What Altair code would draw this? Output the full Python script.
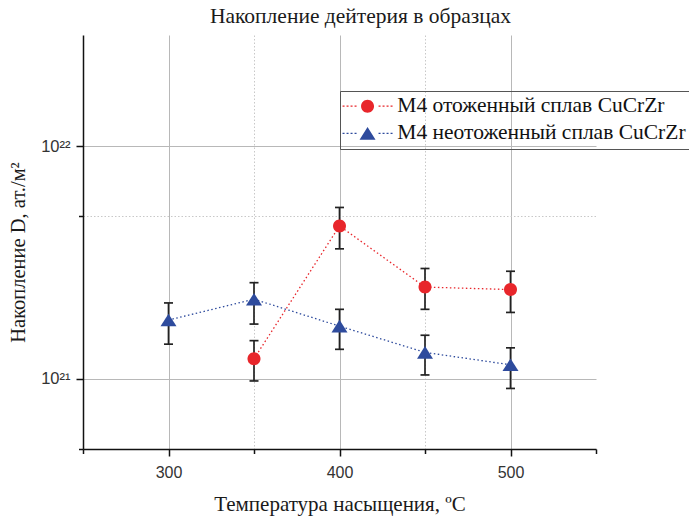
import altair as alt
import pandas as pd

# ---------------- data ----------------
series = ["М4 отоженный сплав CuCrZr", "М4 неотоженный сплав CuCrZr"]
colors = ["#e8262b", "#2e4b9d"]

temps_annealed = [350, 400, 450, 500]
d_annealed = [1.22e21, 4.54e21, 2.48e21, 2.42e21]
d_annealed_lo = [0.98e21, 3.62e21, 1.99e21, 1.93e21]
d_annealed_hi = [1.46e21, 5.45e21, 2.98e21, 2.90e21]

temps_raw = [300, 350, 400, 450, 500]
d_raw = [1.79e21, 2.20e21, 1.685e21, 1.30e21, 1.15e21]
d_raw_lo = [1.41e21, 1.72e21, 1.34e21, 1.04e21, 0.91e21]
d_raw_hi = [2.12e21, 2.59e21, 1.99e21, 1.54e21, 1.36e21]

x_ticks = [250, 300, 350, 400, 450, 500, 550]
y_ticks = [5e20, 1e21, 5e21, 1e22]

rows = []
for t, d, lo, hi in zip(temps_annealed, d_annealed, d_annealed_lo, d_annealed_hi):
    rows.append({"series": series[0], "T": t, "D": d, "lo": lo, "hi": hi})
for t, d, lo, hi in zip(temps_raw, d_raw, d_raw_lo, d_raw_hi):
    rows.append({"series": series[1], "T": t, "D": d, "lo": lo, "hi": hi})
df = pd.DataFrame(rows)

# ---------------- marker / legend symbol shapes ----------------
circle_path = "M-6.5,0A6.5,6.5,0,1,0,6.5,0A6.5,6.5,0,1,0,-6.5,0Z"
tri_path = "M0,-6.3L8,6.3L-8,6.3Z"


def dotted(half=25, gap=8, step=4):
    parts = []
    x = -half
    while x < half:
        if abs(x + 1) > gap:
            parts.append(f"M{x},-0.6h2v1.2h-2Z")
        x += step
    return "".join(parts)


legend_paths = [dotted() + circle_path, dotted() + tri_path]

xs = alt.Scale(domain=[250, 550], nice=False, zero=False)
ys = alt.Scale(type="log", domain=[5e20, 3e22], nice=False)

is_dec = "(abs(datum.value/1e21-1)<1e-6 || abs(datum.value/1e22-1)<1e-6)"
is_major_x = "(datum.value % 100 == 0 && datum.value > 250 && datum.value < 550)"

x_axis = alt.Axis(
    values=x_ticks,
    title="Температура насыщения, ºC",
    labelExpr="datum.value % 100 == 0 && datum.value > 250 && datum.value < 550 ? datum.label : ''",
    grid=True,
    gridDash={"condition": {"test": is_major_x, "value": []}, "value": [1.5, 2]},
    gridColor={"condition": {"test": is_major_x, "value": "#b8b8b8"}, "value": "#c8c8c8"},
    gridOpacity={"condition": {"test": "datum.value == 250 || datum.value == 550", "value": 0}, "value": 1},
    tickSize={"condition": {"test": is_major_x, "value": 7}, "value": 4.5},
    labelPadding=8,
    titlePadding=13,
    titleFontSize=21,
)

y_axis = alt.Axis(
    values=y_ticks,
    title="Накопление D, ат./м²",
    labelExpr="abs(datum.value/1e21-1)<1e-6 ? '10²¹' : abs(datum.value/1e22-1)<1e-6 ? '10²²' : ''",
    grid=True,
    gridDash={"condition": {"test": is_dec, "value": []}, "value": [1.5, 2]},
    gridColor={"condition": {"test": is_dec, "value": "#b8b8b8"}, "value": "#c8c8c8"},
    tickSize={"condition": {"test": is_dec, "value": 7}, "value": 4.5},
    labelPadding=6,
    labelFontSize=16.5,
    titlePadding=12,
    titleFontSize=20.5,
    titleY=217,
)

base = alt.Chart(df)
color_enc = alt.Color("series:N", scale=alt.Scale(domain=series, range=colors), legend=None)

lines = base.mark_line(strokeDash=[1.5, 2.5], strokeWidth=1.3).encode(
    x=alt.X("T:Q", scale=xs, axis=x_axis),
    y=alt.Y("D:Q", scale=ys, axis=y_axis),
    color=color_enc,
    detail="series:N",
)

bars = base.mark_rule(color="#222222", strokeWidth=1.7).encode(
    x="T:Q", y="lo:Q", y2="hi:Q"
)

caps = base.transform_fold(["lo", "hi"], as_=["which", "val"]).mark_tick(
    orient="horizontal", size=9, thickness=1.7, color="#222222", opacity=1
).encode(x="T:Q", y="val:Q")

points = base.mark_point(filled=True, size=4, opacity=1).encode(
    x="T:Q",
    y="D:Q",
    fill=alt.Fill("series:N", scale=alt.Scale(domain=series, range=colors), legend=None),
    shape=alt.Shape("series:N", scale=alt.Scale(domain=series, range=[circle_path, tri_path]), legend=None),
)

legend_props = dict(
    title=None,
    orient="none",
    legendX=257,
    legendY=56,
    symbolSize=4,
    symbolStrokeWidth=0,
    symbolOpacity=1,
    symbolOffset=12.4,
    labelOffset=19,
    labelFont="Liberation Serif",
    labelFontSize=21.5,
    labelColor="#111111",
    labelLimit=600,
    padding=4.4,
    rowPadding=4.2,
    strokeColor="#555555",
)

legend_layer = base.mark_point(filled=True, size=4, opacity=0).encode(
    x="T:Q",
    y="D:Q",
    fill=alt.Fill("series:N", scale=alt.Scale(domain=series, range=colors), legend=alt.Legend(**legend_props)),
    shape=alt.Shape("series:N", scale=alt.Scale(domain=series, range=legend_paths), legend=alt.Legend(**legend_props)),
)

chart = (
    alt.layer(lines, bars, caps, points, legend_layer)
    .resolve_scale(shape="independent", fill="independent")
    .properties(
        width=513,
        height=414,
        padding={"left": 83, "top": 35, "right": 93, "bottom": 67},
        autosize=alt.AutoSizeParams(type="none"),
        title=alt.Title(
            "Накопление дейтерия в образцах",
            font="Liberation Serif",
            fontSize=21.5,
            fontWeight="normal",
            color="#1a1a1a",
            anchor="middle",
            dx=21,
            offset=8,
        ),
    )
    .configure_view(stroke=None)
    .configure_axis(
        domainColor="#111111",
        domainWidth=1.5,
        tickColor="#111111",
        tickWidth=1.5,
        labelFont="Liberation Sans",
        labelFontSize=16,
        labelColor="#333333",
        titleFont="Liberation Serif",
        titleFontWeight="normal",
        titleColor="#1a1a1a",
        gridWidth=1,
    )
)

chart.save("out.html", embed_options={"renderer": "svg", "actions": False})
